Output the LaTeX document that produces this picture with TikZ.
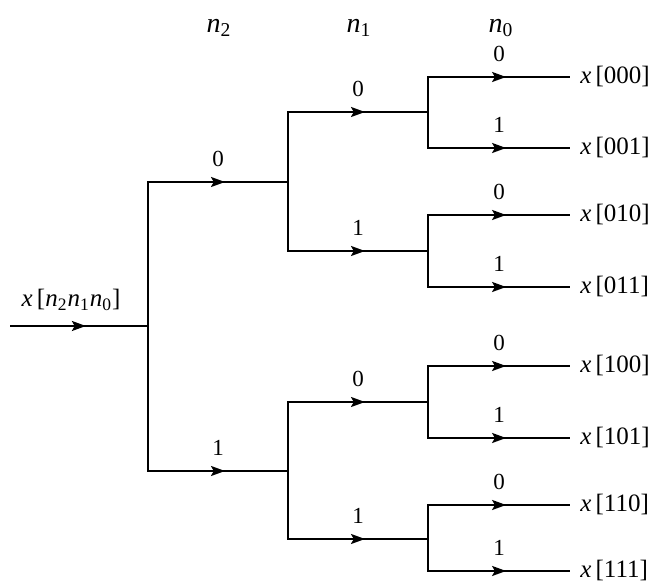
\documentclass[tikz,border=0pt]{standalone}
\usepackage{fontspec}
\setmainfont{Liberation Serif}
\usetikzlibrary{arrows.meta,decorations.markings}

\newcommand{\xv}[1]{\textit{x}\,[#1]}
\newcommand{\nv}[1]{\textit{n}\textsubscript{#1}}

\tikzset{
  stem/.style={line width=1pt, line cap=rect},
  branch/.style={line width=1pt, postaction={decorate},
    decoration={markings, mark=at position 0.55 with {\arrow{Stealth[length=7pt,width=5pt,inset=1.4pt]}}}},
  bit/.style={font=\fontsize{11.5}{13}\selectfont, above=7pt, inner sep=0pt},
  head/.style={font=\fontsize{14}{16}\selectfont},
  leaf/.style={font=\fontsize{12.5}{14}\selectfont, anchor=west, inner xsep=5pt, inner ysep=1pt},
}

\begin{document}
\begin{tikzpicture}[x=0.5pt, y=-0.5pt]
  \useasboundingbox (0,0) rectangle (655,587);
  % bit headers
  \node[head] (h2) at (219,28) {\nv{2}};
  \node[head] (h1) at (359,28) {\nv{1}};
  \node[head] (h0) at (501,28) {\nv{0}};
  % input
  \coordinate (in) at (10,326);
  \coordinate (r) at (148,326);
  \node[leaf, anchor=center] (xin) at (71,300) {\xv{\nv{2}\nv{1}\nv{0}}};
  \draw[branch] (in) -- (r);
  % split on n2
  \coordinate (r0) at (148,182);
  \coordinate (r1) at (148,471);
  \coordinate (a0) at (288,182);
  \coordinate (a1) at (288,471);
  \draw[stem] (r0) -- (r1);
  \draw[branch] (r0) -- node[bit]{0} (a0);
  \draw[branch] (r1) -- node[bit]{1} (a1);
  % split on n1
  \foreach \k/\y/\b in {00/112/0, 01/251/1, 10/402/0, 11/539/1}{
    \coordinate (a\k) at (288,\y);
    \coordinate (b\k) at (428,\y);
    \draw[branch] (a\k) -- node[bit]{\b} (b\k);
  }
  \draw[stem] (a00) -- (a01);
  \draw[stem] (a10) -- (a11);
  % split on n0
  \foreach \k/\y/\b in {000/77/0, 001/148/1, 010/215/0, 011/287/1,
                        100/366/0, 101/438/1, 110/505/0, 111/571/1}{
    \coordinate (c\k) at (428,\y);
    \node[leaf] (x\k) at (570,\y) {\xv{\k}};
    \draw[branch] (c\k) -- node[bit]{\b} (x\k);
  }
  \draw[stem] (c000) -- (c001);
  \draw[stem] (c010) -- (c011);
  \draw[stem] (c100) -- (c101);
  \draw[stem] (c110) -- (c111);
\end{tikzpicture}
\end{document}
